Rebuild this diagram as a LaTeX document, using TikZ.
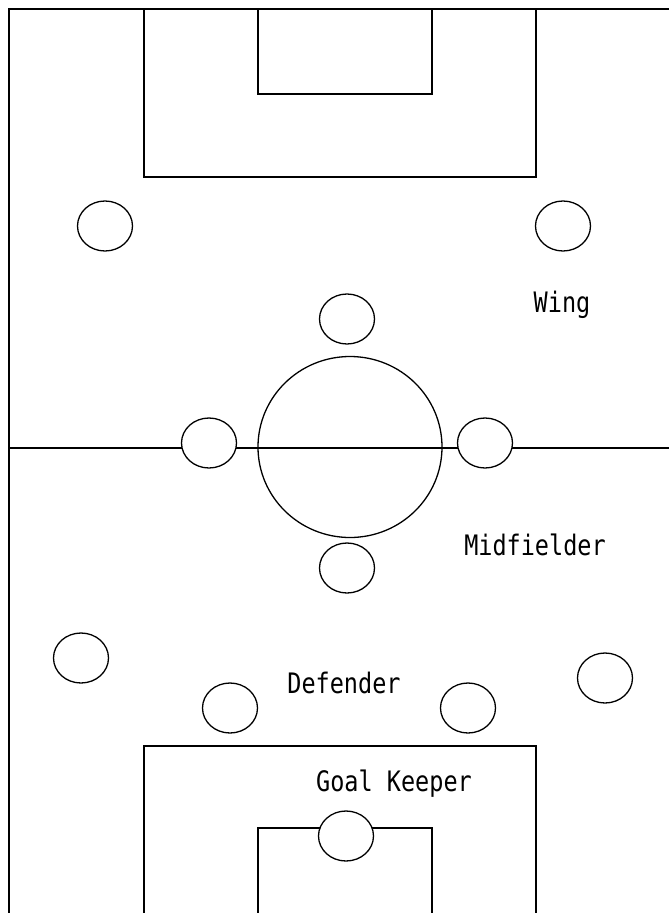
\documentclass[tikz,border=0pt]{standalone}
\usepackage{fontspec}
\newfontfamily\etiquette{DejaVu Sans Mono}
\newcommand{\haut}[1]{\scalebox{1}[1.2]{#1}}
\usetikzlibrary{shapes.geometric}
\begin{document}
\begin{tikzpicture}[x=1pt, y=-1pt,
    ligne/.style={line width=1.6pt},
    joueur/.style={draw, ellipse, fill=white, line width=1.3pt, inner sep=0pt,
                   minimum width=55pt, minimum height=50pt},
    poste/.style={font=\etiquette\fontsize{23.5}{23.5}\selectfont}
]
    \useasboundingbox (0,0) rectangle (669,913);

    % terrain
    \draw[ligne] (669,9) -- (9,9) -- (9,913);
    \draw[ligne] (9,448) -- (669,448);
    \draw[ligne] (144,9) rectangle (536,177);
    \draw[ligne] (258,9) rectangle (432,94);
    \draw[ligne] (144,913) |- (536,746) -- (536,913);
    \draw[ligne] (258,913) |- (432,828) -- (432,913);
    \node[draw, ellipse, line width=1.3pt, minimum width=184pt, minimum height=181pt] (rond) at (350,447) {};

    % joueurs
    \node[joueur] (ailG) at (105,226) {};
    \node[joueur] (ailD) at (563,226) {};
    \node[joueur] (avant) at (347,319) {};
    \node[joueur] (milG) at (209,443) {};
    \node[joueur] (milD) at (485,443) {};
    \node[joueur] (milB) at (347,568) {};
    \node[joueur] (defG) at (81,658) {};
    \node[joueur] (defCG) at (230,708) {};
    \node[joueur] (defCD) at (468,708) {};
    \node[joueur] (defD) at (605,678) {};
    \node[joueur] (gardien) at (346,836) {};

    % postes
    \node[poste] (wing) at (562,305) {\haut{Wing}};
    \node[poste] (mid) at (535,545) {\haut{Midfielder}};
    \node[poste] (def) at (344,683) {\haut{Defender}};
    \node[poste] (gk) at (394,784) {\haut{Goal Keeper}};
\end{tikzpicture}
\end{document}
